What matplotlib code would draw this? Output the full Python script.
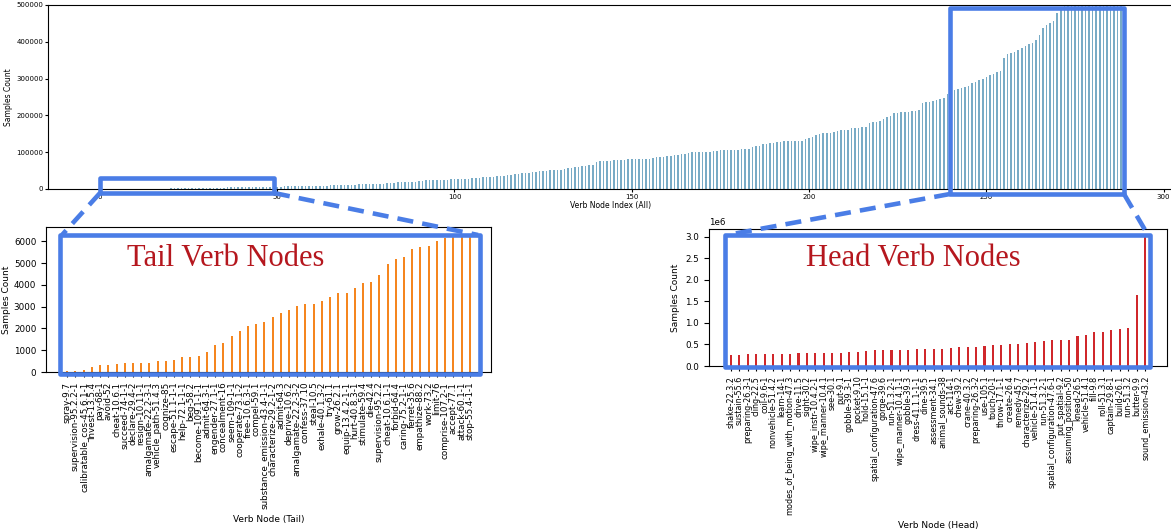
import numpy as np
import matplotlib
matplotlib.use("Agg")
import matplotlib.pyplot as plt
from matplotlib.patches import Rectangle

# ---- data ----
tail_names = ["spray-9.7", "supervision-95.2.2-1", "calibratable_cos-45.6.1-1", "invest-13.5.4",
              "pay-68-1", "avoid-52", "cheat-10.6.1", "succeed-74-1-1", "declare-29.4-2",
              "resign-10.11-1", "amalgamate-22.2-3-1", "vehicle_path-51.4.3", "cognize-85",
              "escape-51.1-1-1", "help-72.1-1-1", "beg-58.2", "become-109.1-1-1", "admit-64.3-1",
              "engender-27.1-1", "concealment-16", "seem-109-1-1", "cooperate-73.1-2",
              "free-10.6.3-1", "compel-59.1", "substance_emission-43.4-1-1", "characterize-29.2-1-2",
              "admit-64.3", "deprive-10.6.2", "amalgamate-22.2-3-2", "confess-37.10", "steal-10.5",
              "exhale-40.1.3-2", "try-61.1", "grow-26.2.1", "equip-13.4.2-1-1", "hurt-40.8.3-1",
              "stimulate-59.4", "die-42.4", "supervision-95.2.2", "cheat-10.6.1-1", "forbid-64.4",
              "caring-75.2-1-1", "ferret-35.6", "empathize-88.2", "work-73.2", "limit-76",
              "comprise-107.2-1", "accept-77.1", "attack-60.1-1", "stop-55.4-1-1"]
tail_counts = [30, 30, 90, 220, 300, 300, 390, 400, 400, 400,
               430, 500, 510, 530, 670, 680, 740, 930, 1240, 1350,
               1670, 1860, 2120, 2200, 2290, 2510, 2710, 2850, 3050, 3110,
               3130, 3270, 3440, 3610, 3640, 3860, 4080, 4110, 4450, 4950,
               5210, 5290, 5640, 5720, 5800, 6030, 6160, 6190, 6200, 6340]

head_names = ["shake-22.3.2", "sustain-55.6", "preparing-26.3-1", "cling-22.5", "coil-9.6-1",
              "nonvehicle-51.4.2", "learn-14-1", "modes_of_being_with_motion-47.3", "drive-11.5",
              "sight-30.2", "wipe_instr-10.4.2-1", "wipe_manner-10.4.1", "see-30.1", "put-9.1",
              "gobble-39.3-1", "pocket-9.10", "hold-15.1-1", "spatial_configuration-47.6",
              "gorge-39.6", "run-51.3.2-1", "wipe_manner-10.4.1-1", "gobble-39.3",
              "dress-41.1.1-1-1", "dine-39.5", "assessment-34.1", "animal_sounds-38", "act-114-1",
              "chew-39.2", "crane-40.3.2", "preparing-26.3-2", "use-105.1", "touch-20-1",
              "throw-17.1-1", "create-26.4", "remedy-45.7", "characterize-29.2",
              "vehicle-51.4.1-1", "run-51.3.2-1", "spatial_configuration-47.6-1", "put_spatial-9.2",
              "assuming_position-50", "knead-26.5", "vehicle-51.4.1", "fill-9.8", "roll-51.3.1",
              "captain-29.8-1", "build-26.1", "run-51.3.2", "butter-9.9", "sound_emission-43.2"]
head_counts_m = [0.257, 0.263, 0.268, 0.271, 0.274, 0.278, 0.281, 0.287, 0.292, 0.296,
                 0.300, 0.304, 0.309, 0.313, 0.318, 0.322, 0.356, 0.366, 0.370, 0.373,
                 0.377, 0.382, 0.388, 0.393, 0.398, 0.404, 0.418, 0.438, 0.445, 0.450,
                 0.456, 0.478, 0.486, 0.505, 0.518, 0.524, 0.546, 0.575, 0.598, 0.605,
                 0.610, 0.708, 0.725, 0.780, 0.792, 0.828, 0.858, 0.872, 1.645, 3.030]

# verbs between tail and head (index 50..238)
mid_counts = [6500, 6700, 6900, 7100, 7300, 7500, 7800,
              8100, 8300, 8500, 8700, 8900, 9100, 9300, 9500, 9800, 10100, 10400, 10800,
              11200, 11600, 11900, 12200, 12500, 12700, 12900, 13100, 13300, 13600, 14000, 14600, 15300, 16200,
              17500, 18200, 18700, 19100, 19400, 19800, 20300, 21200, 22500,
              23500, 24000, 24400, 24800, 25100, 25400, 25700, 26200,
              26800, 27200, 27500, 27800, 28200, 28700, 29400, 30300,
              31300, 32200, 33000, 33600, 34200, 35000, 36300, 37200, 38000,
              40000, 41200, 42300, 43300, 44300, 46500, 47300, 47800, 48300,
              49800, 50600, 51200, 51800, 52500, 54500, 56000, 57200, 58500, 59800,
              61500, 63000, 64300, 66500, 74000, 74800, 75300, 75800, 76300,
              77500, 78300, 79000, 79700, 80500, 81000, 81300, 81600, 81900, 82200, 82600,
              84500, 85800, 87000, 88300, 89200, 90500, 92000, 93300, 94500, 95500, 96500,
              100000, 100500, 101000, 101300, 101600, 101900, 102200, 102600,
              105000, 106000, 106300, 106600, 106900, 107200, 107500, 108000, 108700,
              114500, 116000, 117500, 121500, 123000, 124500, 125800, 127000,
              129000, 129500, 130000, 130300, 130600, 131000, 131500,
              135500, 137500, 140000, 148000, 149500, 151000, 152200, 153200, 154200,
              158000, 159000, 160000, 160800, 164500, 165500, 166500, 167500, 168500,
              179500, 181000, 182500, 184000, 190000, 194500, 199500,
              206000, 207500, 208500, 209500, 210500, 211500, 213000, 214500,
              233500, 235500, 237500, 239500, 241500, 243500, 246000]

all_counts = np.array(tail_counts + mid_counts + [v * 1e6 for v in head_counts_m])

W, H = 1171, 531
fig = plt.figure(figsize=(W / 100, H / 100), dpi=100)

def px_axes(l, t, r, b):
    return fig.add_axes([l / W, 1 - b / H, (r - l) / W, (b - t) / H])

# ---- top: all verb nodes ----
ax0 = px_axes(48, 5, 1173, 189)
ax0.bar(np.arange(len(all_counts)), all_counts, width=0.45, color='#78abc6')
ax0.set_ylim(0, 500000)
ax0.set_xticks([0, 50, 100, 150, 200, 250, 300])
ax0.tick_params(labelsize=5, length=2, pad=1.5)
ax0.set_xlabel('Verb Node Index (All)', fontsize=5.5, labelpad=1)
ax0.set_ylabel('Samples Count', fontsize=5.5, labelpad=2)

# ---- bottom left: tail ----
ax1 = px_axes(46, 227, 491, 372)
x1 = np.arange(len(tail_counts))
ax1.bar(x1, tail_counts, width=0.25, color='#f5861f')
ax1.set_xticks(x1)
ax1.set_xticklabels(tail_names, rotation=90, fontsize=6.3)
ax1.tick_params(axis='y', labelsize=6.3)
ax1.set_ylabel('Samples Count', fontsize=6.5, labelpad=2)
ax1.set_xlabel('Verb Node (Tail)', fontsize=6.5)

# ---- bottom right: head ----
ax2 = px_axes(709, 229, 1167, 366)
x2 = np.arange(len(head_counts_m))
ax2.bar(x2, np.array(head_counts_m) * 1e6, width=0.25, color='#d0272b')
ax2.set_xticks(x2)
ax2.set_xticklabels(head_names, rotation=90, fontsize=5.8)
ax2.tick_params(axis='y', labelsize=6.3)
ax2.yaxis.get_offset_text().set_fontsize(6.3)
ax2.set_ylabel('Samples Count', fontsize=6.5)
ax2.set_xlabel('Verb Node (Head)', fontsize=6.5)

# ---- overlay: zoom boxes and connectors, in pixel coords ----
ov = fig.add_axes([0, 0, 1, 1], zorder=10)
ov.set_xlim(0, W)
ov.set_ylim(H, 0)
ov.axis('off')
blue = '#4a7de6'
for (l, t, r, b) in [(100, 178, 274, 193), (950, 8, 1124, 194),
                     (60, 235, 480, 374), (725, 235, 1150, 367)]:
    ov.add_patch(Rectangle((l, t), r - l, b - t, fill=False, ec=blue, lw=3.3, joinstyle='round'))
for (xa, ya, xb, yb) in [(100, 193, 62, 235), (274, 193, 478, 235),
                         (950, 194, 727, 235), (1124, 194, 1148, 235)]:
    ov.plot([xa, xb], [ya, yb], color=blue, lw=3.3, ls=(0, (3.5, 2)))

ov.text(226, 258, 'Tail Verb Nodes', color='#b5171e', fontsize=22,
        family='Liberation Serif', ha='center', va='center')
ov.text(913, 258, 'Head Verb Nodes', color='#b5171e', fontsize=22,
        family='Liberation Serif', ha='center', va='center')

fig.savefig('out.png', dpi=100)
